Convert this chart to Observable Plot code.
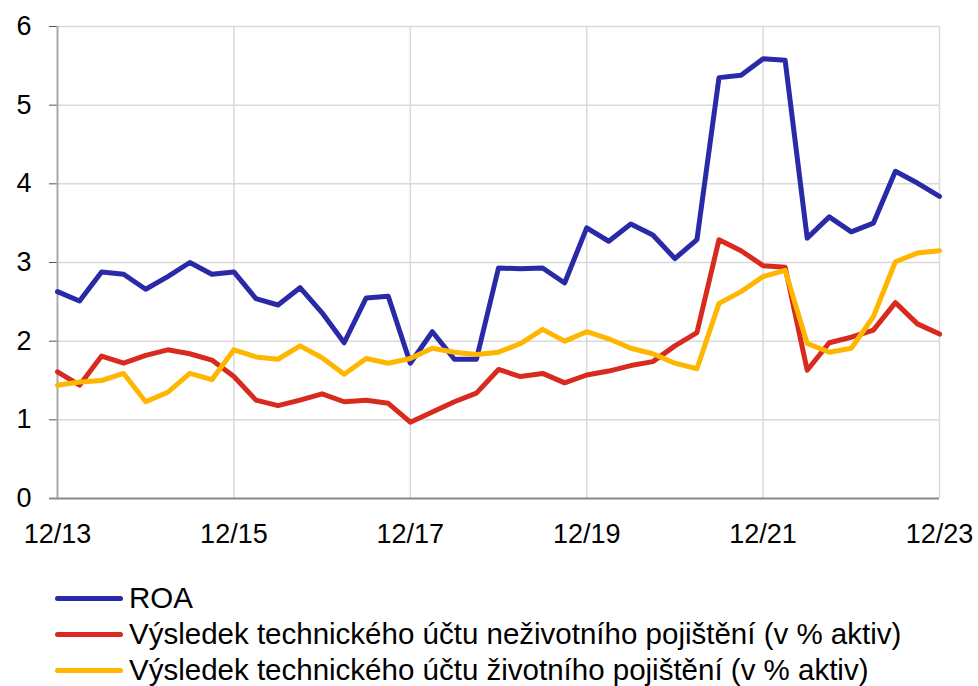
<!DOCTYPE html>
<html>
<head>
<meta charset="utf-8">
<script src="https://cdn.jsdelivr.net/npm/d3@7"></script>
<script src="https://cdn.jsdelivr.net/npm/@observablehq/plot@0.6"></script>
<style>
  html, body { margin: 0; padding: 0; background: #fff; }
  body { width: 978px; height: 686px; overflow: hidden; font-family: "Liberation Sans", Arial, sans-serif; }
  #legend { padding-top: 15px; }
  .row { display: flex; align-items: center; height: 36px; font-size: 29.5px; color: #000; white-space: nowrap; }
  .sw { width: 68px; height: 5px; border-radius: 3px; margin-left: 55px; margin-right: 6px; flex: none; }
</style>
</head>
<body>
<div id="chart"></div>
<div id="legend"></div>
<script>
// Quarterly observations 12/13 ... 12/23 (41 quarters)
const roa = [2.63,2.51,2.88,2.85,2.66,2.82,3.00,2.85,2.88,2.54,2.46,2.68,2.36,1.98,2.55,2.57,1.72,2.12,1.77,1.77,2.93,2.92,2.93,2.74,3.44,3.27,3.49,3.35,3.05,3.29,5.35,5.38,5.59,5.57,3.31,3.58,3.39,3.50,4.16,4.01,3.84];
const nonLife = [1.61,1.44,1.81,1.72,1.82,1.89,1.84,1.76,1.55,1.25,1.18,1.25,1.33,1.23,1.25,1.21,0.97,1.10,1.23,1.34,1.64,1.55,1.59,1.47,1.57,1.62,1.69,1.74,1.94,2.11,3.29,3.15,2.96,2.94,1.63,1.98,2.05,2.14,2.49,2.22,2.09];
const life = [1.44,1.48,1.50,1.59,1.23,1.35,1.59,1.51,1.89,1.80,1.77,1.94,1.79,1.58,1.78,1.72,1.78,1.91,1.86,1.83,1.86,1.97,2.15,2.00,2.12,2.03,1.91,1.84,1.72,1.65,2.48,2.63,2.82,2.90,1.97,1.86,1.91,2.31,3.01,3.12,3.15];

const seriesNames = ["ROA", "Výsledek technického účtu neživotního pojištění (v % aktiv)", "Výsledek technického účtu životního pojištění (v % aktiv)"];
const seriesColors = ["#2A2AA8", "#D82A1E", "#FFB600"];
const xTickPos = [0, 8, 16, 24, 32, 40];
const xTickLabels = ["12/13", "12/15", "12/17", "12/19", "12/21", "12/23"];
const yTicks = [0, 1, 2, 3, 4, 5, 6];
const yTickLabels = ["0", "1", "2", "3", "4", "5", "6"];

const rows = [];
[roa, nonLife, life].forEach((arr, s) => arr.forEach((v, i) => rows.push({i, v, s: seriesNames[s]})));

const chart = Plot.plot({
  width: 978,
  height: 565,
  marginLeft: 57,
  marginRight: 39,
  marginTop: 26,
  marginBottom: 67,
  style: { fontFamily: "Liberation Sans, Arial, sans-serif", fontSize: "27px", color: "#000", background: "#fff", overflow: "visible" },
  x: { domain: [0, 40], label: null },
  y: { domain: [0, 6], label: null },
  color: { domain: seriesNames, range: seriesColors },
  marks: [
    Plot.gridY(yTicks.filter(d => d > 0), { stroke: "#d9d9d9", strokeOpacity: 1, strokeWidth: 1.5 }),
    Plot.gridX(xTickPos.filter(d => d > 0), { stroke: "#d9d9d9", strokeOpacity: 1, strokeWidth: 1.5 }),
    Plot.axisY({ ticks: yTicks, tickFormat: d => yTickLabels[yTicks.indexOf(d)], tickSize: 8, tickPadding: 18, stroke: "#555", fontSize: 27, label: null }),
    Plot.axisX({ ticks: xTickPos, tickFormat: d => xTickLabels[xTickPos.indexOf(d)], tickSize: 0, tickPadding: 25, fontSize: 27, label: null }),
    Plot.ruleX([0], { stroke: "#aaa", strokeWidth: 2 }),
    Plot.ruleY([0], { stroke: "#888", strokeWidth: 2, x1: -0.36, x2: 40 }),
    Plot.lineY(rows, { x: "i", y: "v", z: "s", stroke: "s", strokeWidth: 5, strokeLinejoin: "round", strokeLinecap: "round" })
  ]
});
document.getElementById("chart").appendChild(chart);

const legend = document.getElementById("legend");
seriesNames.forEach((name, k) => {
  const row = document.createElement("div");
  row.className = "row";
  const sw = document.createElement("div");
  sw.className = "sw";
  sw.style.background = seriesColors[k];
  const t = document.createElement("span");
  t.textContent = name;
  row.appendChild(sw);
  row.appendChild(t);
  legend.appendChild(row);
});
</script>
</body>
</html>
